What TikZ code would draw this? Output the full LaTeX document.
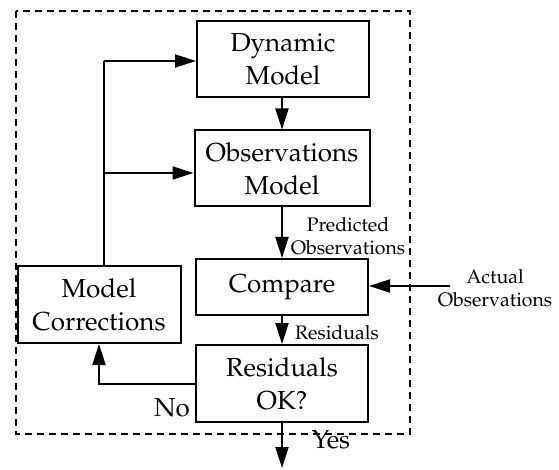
\documentclass[tikz,border=0pt]{standalone}
\usepackage[T1]{fontenc}
\usepackage{mathpazo}
\usetikzlibrary{arrows.meta}
\tikzset{
  blk/.style={draw, line width=2pt, rectangle, align=center, inner sep=0pt,
    font=\fontsize{26}{33}\selectfont},
  lbl/.style={align=center, inner sep=0pt, font=\fontsize{19.5}{23}\selectfont},
  big/.style={inner sep=0pt, font=\fontsize{26}{33}\selectfont},
  arr/.style={line width=2pt, -{Triangle[length=21pt,width=13pt]}},
  ln/.style={line width=2pt},
  frame/.style={line width=1.5pt, dash pattern=on 7pt off 5pt}
}
\begin{document}
\begin{tikzpicture}[x=1pt,y=-1pt]
\useasboundingbox (0,0) rectangle (559,470);
\draw[frame] (16,11) rectangle (410,434);
\node[blk, minimum width=172pt, minimum height=76pt] (dyn) at (283,59) {Dynamic\\Model};
\node[blk, minimum width=175pt, minimum height=76pt] (obs) at (282,168.5) {Observations\\Model};
\node[blk, minimum width=172pt, minimum height=56pt] (cmp) at (282,287) {Compare};
\node[blk, minimum width=163pt, minimum height=77pt] (mc) at (99,304.5) {Model\\Corrections};
\node[blk, minimum width=172pt, minimum height=77pt] (res) at (282,383.5) {Residuals\\OK?};
\coordinate (j1) at (104,61);
\coordinate (j2) at (104,173);
\coordinate (act) at (450,286);
\coordinate (out) at (282,468);
\node[lbl] (pl) at (348,236) {Predicted\\Observations};
\node[lbl] (al) at (495,288) {Actual\\Observations};
\node[lbl] (rl) at (337,333) {Residuals};
\node[big] (no) at (172,408) {No};
\node[big] (yes) at (331,440) {Yes};
\draw[ln] (mc.north -| j1) -- (j1);
\draw[arr] (j1) -- (j1 -| dyn.west);
\draw[arr] (j2) -- (j2 -| obs.west);
\draw[arr] (dyn.south -| 282,0) -- (obs.north);
\draw[arr] (obs.south) -- (cmp.north);
\draw[arr] (act) -- (act -| cmp.east);
\draw[arr] (cmp.south) -- (res.north);
\draw[arr] (res.west) -| (mc.south);
\draw[arr] (res.south) -- (out);
\end{tikzpicture}
\end{document}
